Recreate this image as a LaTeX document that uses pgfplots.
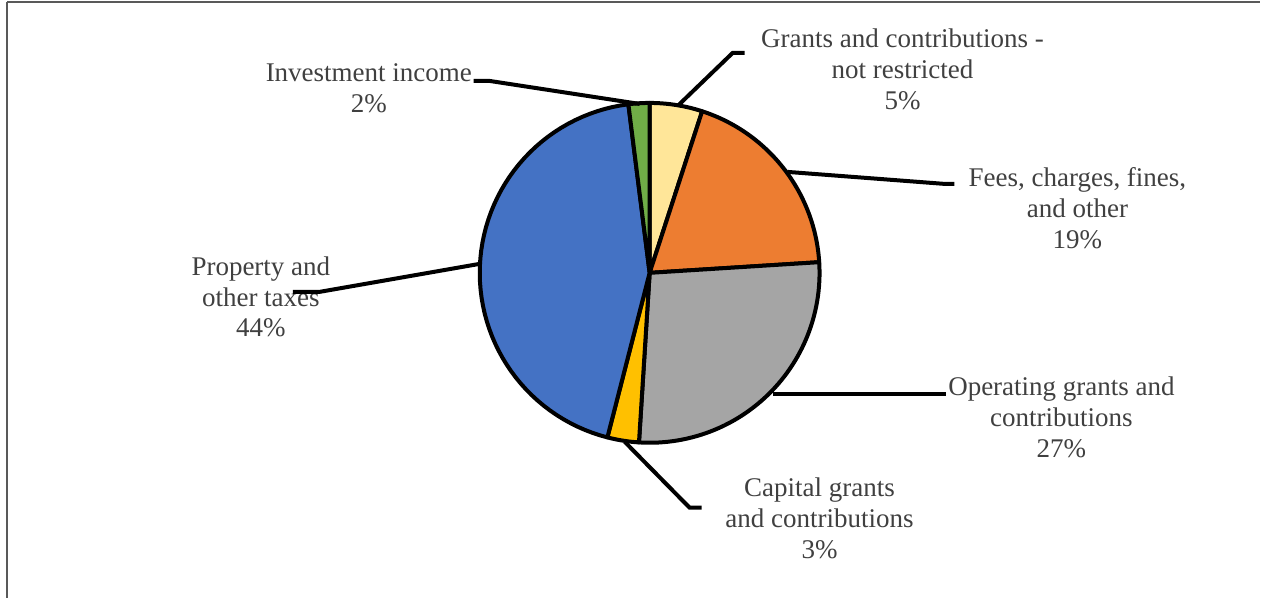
\documentclass[border=0pt]{standalone}
\usepackage{pgfplots}
\pgfplotsset{compat=1.18}
\usepackage{fontspec}
\setmainfont{Liberation Serif}

\definecolor{grantc}{HTML}{FFE699}
\definecolor{feesc}{HTML}{ED7D31}
\definecolor{operc}{HTML}{A5A5A5}
\definecolor{capc}{HTML}{FFC000}
\definecolor{propc}{HTML}{4472C4}
\definecolor{invc}{HTML}{70AD47}
\definecolor{txt}{HTML}{404040}
\definecolor{frame}{HTML}{595959}

\tikzset{lbl/.style={font=\fontsize{13.5pt}{15.5pt}\selectfont,
    text=txt, align=center, inner sep=0pt}}

% one wedge: #1 = share before it (%), #2 = its share (%), #3 = colour
% pie centre (650,325), radius 170, clockwise from 12 o'clock
\newcommand\slice[3]{%
  \addplot[fill=#3, draw=black, line width=2pt, line join=round,
    domain={90-3.6*(#1+#2)}:{90-3.6*(#1)}, samples=60, variable=\t]
    ({650+170*cos(\t)}, {325+170*sin(\t)}) -- (650,325) -- cycle;
}

\begin{document}
\begin{tikzpicture}
\begin{axis}[
  scale only axis,
  width=630.5pt, height=299pt,
  xmin=0, xmax=1261, ymin=0, ymax=598,
  hide axis, clip=false,
]
  % page frame
  \addplot[draw=none] coordinates {(0,0) (1261,598)};
  \addplot[frame, line width=1.1pt] coordinates {(7,0) (7,596)};
  \addplot[frame, line width=0.7pt] coordinates {(7,596) (1261,596)};

  % shares in percent
  \slice{0}{5}{grantc}
  \slice{5}{19}{feesc}
  \slice{24}{27}{operc}
  \slice{51}{3}{capc}
  \slice{54}{44}{propc}
  \slice{98}{2}{invc}

  % labels
  \node[lbl] at (axis cs:903,529) {Grants and contributions -\\not restricted\\5\%};
  \node[lbl] at (axis cs:1078,390) {Fees, charges, fines,\\and other\\19\%};
  \node[lbl] at (axis cs:1062,180) {Operating grants and\\contributions\\27\%};
  \node[lbl] at (axis cs:820,79) {Capital grants\\and contributions\\3\%};
  \node[lbl] at (axis cs:261,301) {Property and\\other taxes\\44\%};
  \node[lbl] at (axis cs:369,510) {Investment income\\2\%};

  % leader lines
  \addplot[black, line width=2pt] coordinates {(474,517) (490,517) (640,494)};
  \addplot[black, line width=2pt] coordinates {(678,492) (733,545) (745,545)};
  \addplot[black, line width=2pt] coordinates {(788,426) (945,414) (955,414)};
  \addplot[black, line width=2pt] coordinates {(773,204) (947,204)};
  \addplot[black, line width=2pt] coordinates {(625,156) (690,90) (702,90)};
  \addplot[black, line width=2pt] coordinates {(480,334) (320,306) (293,306)};
\end{axis}
\end{tikzpicture}
\end{document}
